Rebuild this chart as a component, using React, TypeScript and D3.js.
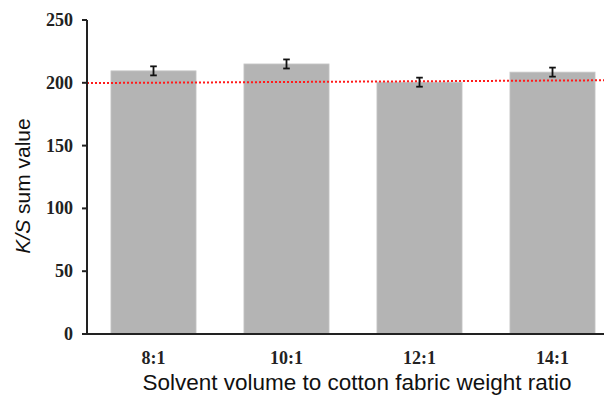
import React from "react";
import * as d3 from "d3";

const categories = ["8:1", "10:1", "12:1", "14:1"];
const values = [209.5, 215, 200.5, 208.5];
const errors = [3.6, 3.6, 3.6, 3.6];
const yTicks = [0, 50, 100, 150, 200, 250];
const trendValues = [199.8, 202.0];

const W = 604;
const H = 395;
const left = 87;
const top = 20;
const bottom = 334;

export default function App() {
  const x = d3.scaleBand<string>().domain(categories).range([left, left + 4 * 133]).paddingInner(0.36).paddingOuter(0.18);
  const y = d3.scaleLinear().domain([0, 250]).range([bottom, top]);
  const tx = d3.scaleLinear().domain([0, 1]).range([left, W]);
  const line = d3.line<number>().x((_, i) => tx(i)).y((d) => y(d));
  const serif = "'Liberation Serif', 'Times New Roman', serif";
  const sans = "'Liberation Sans', Arial, sans-serif";
  return (
    <svg width={W} height={H} style={{ position: "absolute", left: 0, top: 0, background: "#fff" }}>
      {categories.map((c, i) => (
        <rect key={c} x={x(c)} y={y(values[i])} width={x.bandwidth()} height={bottom - y(values[i])} fill="#b4b4b4" stroke="#c8c8c8" strokeWidth={0.8} />
      ))}
      <path d={line(trendValues) || ""} fill="none" stroke="#ff1a1a" strokeWidth={2} strokeDasharray="2,2" />
      {categories.map((c, i) => {
        const cx = (x(c) as number) + x.bandwidth() / 2;
        const y1 = y(values[i] + errors[i]);
        const y2 = y(values[i] - errors[i]);
        return (
          <g key={"e" + c} stroke="#111" strokeWidth={1.8}>
            <line x1={cx} x2={cx} y1={y1} y2={y2} />
            <line x1={cx - 3.3} x2={cx + 3.3} y1={y1} y2={y1} />
            <line x1={cx - 3.3} x2={cx + 3.3} y1={y2} y2={y2} />
          </g>
        );
      })}
      <line x1={left} x2={left} y1={top} y2={bottom} stroke="#222" strokeWidth={2} />
      <line x1={left - 1} x2={W} y1={bottom} y2={bottom} stroke="#222" strokeWidth={2} />
      {yTicks.map((t) => (
        <g key={t}>
          <line x1={left - 5} x2={left} y1={y(t)} y2={y(t)} stroke="#222" strokeWidth={2} />
          <text x={73} y={y(t)} dy="0.33em" textAnchor="end" fontFamily={serif} fontWeight="bold" fontSize={18} fill="#222">{t}</text>
        </g>
      ))}
      {categories.map((c) => (
        <text key={"l" + c} x={(x(c) as number) + x.bandwidth() / 2} y={364} textAnchor="middle" fontFamily={serif} fontWeight="bold" fontSize={18} fill="#222">{c}</text>
      ))}
      <text x={357} y={390} textAnchor="middle" fontFamily={sans} fontSize={22.5} fill="#111">Solvent volume to cotton fabric weight ratio</text>
      <text transform={`translate(30,186) rotate(-90)`} textAnchor="middle" fontFamily={sans} fontSize={21} fill="#111">
        <tspan fontStyle="italic">K/S</tspan> sum value
      </text>
    </svg>
  );
}
